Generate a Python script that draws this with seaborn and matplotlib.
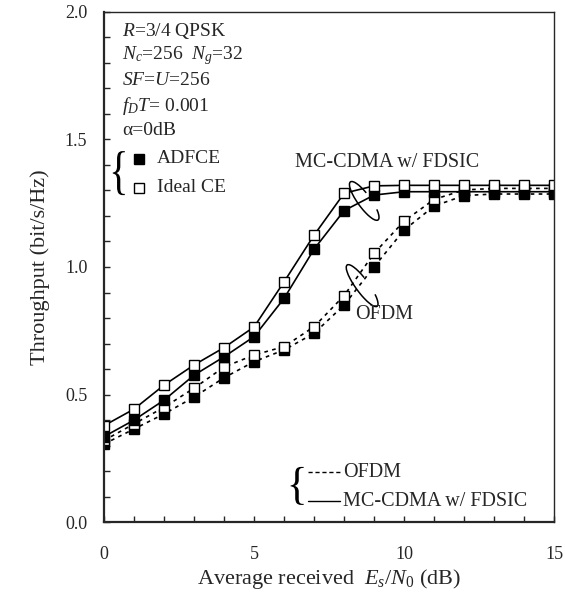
import numpy as np
import pandas as pd
import seaborn as sns
import matplotlib.pyplot as plt
from matplotlib.patches import Arc, PathPatch
from matplotlib.textpath import TextPath
from matplotlib.font_manager import FontProperties
from matplotlib.transforms import ScaledTranslation, Affine2D
from matplotlib.ticker import MultipleLocator

# dane
snr_db = [0, 1, 2, 3, 4, 5, 6, 7, 8, 9, 10, 11, 12, 13, 14, 15]
mc_ideal = [0.378, 0.443, 0.537, 0.616, 0.684, 0.765, 0.942, 1.125, 1.289, 1.318,
            1.320, 1.320, 1.320, 1.320, 1.320, 1.320]
mc_adfce = [0.335, 0.400, 0.478, 0.576, 0.648, 0.727, 0.877, 1.070, 1.221, 1.282,
            1.295, 1.295, 1.295, 1.295, 1.295, 1.295]
ofdm_ideal = [0.320, 0.385, 0.450, 0.525, 0.608, 0.655, 0.688, 0.766, 0.888, 1.054,
              1.180, 1.265, 1.302, 1.308, 1.308, 1.308]
ofdm_adfce = [0.306, 0.365, 0.424, 0.490, 0.566, 0.629, 0.675, 0.740, 0.851, 1.001,
              1.145, 1.239, 1.280, 1.286, 1.286, 1.286]

info_lines = [r"$R$=3/4 QPSK", r"$N_c$=256  $N_g$=32", r"$SF$=$U$=256",
              r"$f_DT$= 0.001", "α=0dB"]

sns.set_style("ticks")
plt.rcParams['font.family'] = ['Liberation Serif', 'DejaVu Serif']
plt.rcParams['mathtext.fontset'] = 'custom'
plt.rcParams['mathtext.rm'] = 'Liberation Serif'
plt.rcParams['mathtext.it'] = 'Liberation Serif:italic'

fig = plt.figure(figsize=(5.65, 5.92), dpi=100)
ax = fig.add_axes([0.184, 0.118, 0.797, 0.862])


def klamra(ax, x, y, w_in, h_in):
    # waska, wysoka klamra "{" rysowana jako sciezka
    tp = TextPath((0, 0), "{", size=1, prop=FontProperties(family='Liberation Serif'))
    ext = tp.get_extents()
    tr = (Affine2D().translate(-(ext.x0 + ext.x1) / 2, -(ext.y0 + ext.y1) / 2)
          .scale(w_in / ext.width, h_in / ext.height)
          + fig.dpi_scale_trans + ScaledTranslation(x, y, ax.transAxes))
    ax.add_patch(PathPatch(tp, transform=tr, facecolor='black', edgecolor='none'))


dotted = (0, (2.2, 2.6))
series = [
    (ofdm_adfce, dotted, 'black'),
    (ofdm_ideal, dotted, 'white'),
    (mc_adfce, '-', 'black'),
    (mc_ideal, '-', 'white'),
]
for vals, ls, face in series:
    df = pd.DataFrame({'snr': snr_db, 'thr': vals})
    sns.lineplot(data=df, x='snr', y='thr', ax=ax, color='black', linestyle=ls,
                 linewidth=1.2, marker='s', markersize=6.5, markerfacecolor=face,
                 markeredgecolor='black', markeredgewidth=1.0)

ax.set_xlim(0, 15)
ax.set_ylim(0, 2.0)
ax.xaxis.set_major_locator(MultipleLocator(5))
ax.xaxis.set_minor_locator(MultipleLocator(1))
ax.yaxis.set_major_locator(MultipleLocator(0.5))
ax.yaxis.set_minor_locator(MultipleLocator(0.1))
ax.yaxis.set_major_formatter(plt.FuncFormatter(lambda v, p: f"{v:.1f}"))
ax.tick_params(axis='both', which='both', direction='in', width=1.0, labelsize=13)
ax.tick_params(axis='both', which='major', length=4)
ax.tick_params(axis='both', which='minor', length=4)
ax.tick_params(axis='x', which='major', pad=17)
ax.tick_params(axis='y', which='major', pad=12)
for side in ['left', 'bottom']:
    ax.spines[side].set_linewidth(1.6)
for side in ['right', 'top']:
    ax.spines[side].set_linewidth(1.0)

ax.set_xlabel(r"Average received  $E_s/N_0$ (dB)", fontsize=16, labelpad=3)
ax.set_ylabel("Throughput (bit/s/Hz)", fontsize=16, labelpad=11)

# opis parametrow
for i, line in enumerate(info_lines):
    ax.text(0.04, 0.963 - i * 0.049, line, transform=ax.transAxes, fontsize=14,
            va='center', ha='left')

# legenda markerow
klamra(ax, 0.033, 0.684, 0.12, 0.44)
ax.plot([0.078], [0.712], 's', transform=ax.transAxes, color='black', markersize=6.5)
ax.plot([0.078], [0.655], 's', transform=ax.transAxes, markerfacecolor='white',
        markeredgecolor='black', markersize=6.5)
ax.text(0.118, 0.712, "ADFCE", transform=ax.transAxes, fontsize=14, va='center')
ax.text(0.118, 0.655, "Ideal CE", transform=ax.transAxes, fontsize=14, va='center')

# legenda linii
klamra(ax, 0.429, 0.071, 0.13, 0.38)
ax.plot([0.453, 0.524], [0.098, 0.098], transform=ax.transAxes, color='black',
        linestyle=(0, (3, 2)), linewidth=1.0)
ax.plot([0.453, 0.524], [0.041, 0.041], transform=ax.transAxes, color='black',
        linewidth=1.0)
ax.text(0.531, 0.098, "OFDM", transform=ax.transAxes, fontsize=14.5, va='center')
ax.text(0.531, 0.041, "MC-CDMA w/ FDSIC", transform=ax.transAxes, fontsize=14.5,
        va='center')

# opisy krzywych z elipsami
ax.text(6.37, 1.408, "MC-CDMA w/ FDSIC", fontsize=14.5, va='center', ha='left')
ax.text(8.37, 0.812, "OFDM", fontsize=14.5, va='center', ha='left')
for cx, cy, w in [(8.67, 1.259, 0.47), (8.6, 0.927, 0.51)]:
    arc = Arc((0, 0), w, 0.13, angle=-54, theta1=130, theta2=20, color='black',
              linewidth=1.1,
              transform=fig.dpi_scale_trans + ScaledTranslation(cx, cy, ax.transData))
    ax.add_patch(arc)

plt.savefig("out.png", dpi=100)
